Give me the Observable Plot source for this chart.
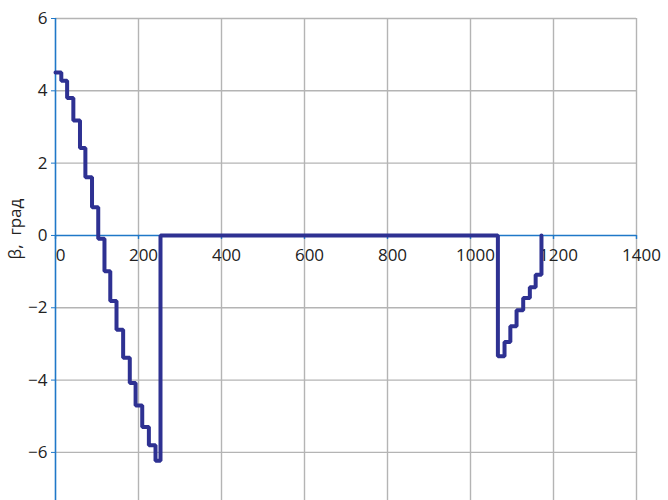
<!DOCTYPE html>
<html><head><meta charset="utf-8">
<script src="https://cdn.jsdelivr.net/npm/d3@7"></script>
<script src="https://cdn.jsdelivr.net/npm/@observablehq/plot@0.6"></script>
<style>body{margin:0;background:#fff}</style>
</head><body><div id="chart"></div>
<script>
// step starts (x) and the β value held from each start
const xs = [0, 14, 28, 43, 59, 72, 88, 103, 118, 132, 147, 163, 179, 193, 209, 225, 241,
            253, 1066, 1082, 1096, 1111, 1127, 1143, 1157, 1171];
const beta = [4.51, 4.28, 3.80, 3.18, 2.42, 1.61, 0.78, -0.09, -0.99, -1.81, -2.61, -3.38, -4.08, -4.70, -5.30, -5.80, -6.23,
              0, -3.34, -2.95, -2.51, -2.07, -1.73, -1.43, -1.09, 0];
const xTicks = [0, 200, 400, 600, 800, 1000, 1200, 1400];
const yTicks = [-6, -4, -2, 0, 2, 4, 6];
const yGrid = [-6, -4, -2, 2, 4, 6];
const yLabel = "β,\u00a0\u00a0град";
const xDomain = [0, 1400];
const yDomain = [-7.33, 6];

const data = xs.map((x, i) => ({x, beta: beta[i]}));
const blue = "#1f78c8";
const grid = "#b4b4b4";

const chart = Plot.plot({
  width: 668, height: 500,
  marginLeft: 55, marginRight: 32, marginTop: 18, marginBottom: 0,
  style: {fontFamily: "'Open Sans', sans-serif", fontSize: "17px", color: "#222", background: "#fff", overflow: "visible"},
  x: {domain: xDomain, axis: null},
  y: {domain: yDomain},
  marks: [
    Plot.ruleY(yGrid, {x1: xDomain[0], x2: xDomain[1], stroke: grid, strokeWidth: 1.4}),
    Plot.ruleX(xTicks.slice(1), {y1: yDomain[0], y2: yDomain[1], stroke: grid, strokeWidth: 1.4}),
    Plot.ruleY([0], {x1: xDomain[0], x2: xDomain[1], stroke: blue, strokeWidth: 1.6}),
    Plot.ruleX([0], {y1: yDomain[0], y2: yDomain[1], stroke: blue, strokeWidth: 1.6}),
    Plot.ruleX(xTicks, {x: d => d, y1: 0, y2: 0, insetBottom: -4, stroke: blue, strokeWidth: 1.4}),
    Plot.text(xTicks, {x: d => d, y: 0, dy: 20, dx: 5, text: d => String(d), fill: "#222", fontSize: 17}),
    Plot.axisY(yTicks, {tickSize: 4, tickPadding: 4, stroke: blue, fill: "#222", label: null, fontSize: 17}),
    Plot.text([yLabel], {frameAnchor: "left", dx: -40, rotate: -90, text: d => d, fill: "#222", fontSize: 17}),
    Plot.line(data, {x: "x", y: "beta", curve: "step-after", stroke: "#2e3192", strokeWidth: 4, strokeLinejoin: "miter"})
  ]
});
document.getElementById("chart").appendChild(chart);
</script>
</body></html>
